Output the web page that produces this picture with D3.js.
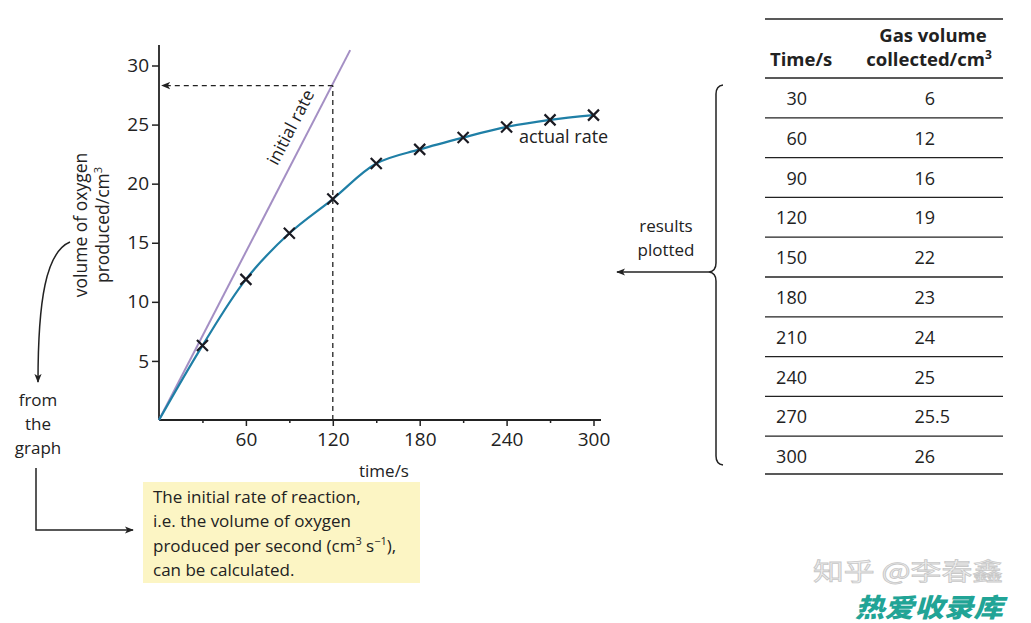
<!DOCTYPE html>
<html><head><meta charset="utf-8">
<script src="https://cdn.jsdelivr.net/npm/d3@7"></script>
<style>html,body{margin:0;padding:0;background:#fff;} svg{display:block;font-family:"Open Sans","Noto Sans",sans-serif;}</style>
</head><body>
<svg id="c" width="1031" height="623"></svg>
<script>
// ---- data ----
const times = [30, 60, 90, 120, 150, 180, 210, 240, 270, 300];
const plotted = [6.3, 11.9, 15.8, 18.7, 21.7, 22.9, 23.9, 24.8, 25.4, 25.8];
const tableTimes = ["30","60","90","120","150","180","210","240","270","300"];
const tableVolumes = ["6","12","16","19","22","23","24","25","25.5","26"];
const xMajorTicks = [60, 120, 180, 240, 300];
const xMinorTicks = [30, 90, 150, 210, 270];
const yTicks = [5, 10, 15, 20, 25, 30];
const initialRateEnd = [132, 31.3];
const readTime = 120, readVolume = 28.3;

const svg = d3.select("#c");
const ink = "#222";
const x = d3.scaleLinear().domain([0, 300]).range([159, 593.5]);
const y = d3.scaleLinear().domain([0, 30]).range([420, 65.5]);

// defs: arrowhead
const defs = svg.append("defs");
defs.append("marker").attr("id","ah").attr("viewBox","0 0 10 10").attr("refX",9).attr("refY",5)
  .attr("markerWidth",9).attr("markerHeight",9).attr("markerUnits","userSpaceOnUse").attr("orient","auto-start-reverse")
  .append("path").attr("d","M0,1 L10,5 L0,9 L2.5,5 Z").attr("fill", ink);

// axes
const gx = svg.append("g").attr("transform","translate(0,420)");
gx.append("line").attr("x1",159).attr("x2",601).attr("stroke",ink).attr("stroke-width",1.8);
gx.call(d3.axisBottom(x).tickValues(xMajorTicks).tickSize(6).tickPadding(7).tickSizeOuter(0));
const gxm = svg.append("g").attr("transform","translate(0,420)")
  .call(d3.axisBottom(x).tickValues(xMinorTicks).tickSize(3).tickFormat("").tickSizeOuter(0));
gxm.select(".domain").remove();
gx.select(".domain").remove();
const gy = svg.append("g").attr("transform","translate(159,0)");
gy.append("line").attr("y1",420).attr("y2",45).attr("stroke",ink).attr("stroke-width",1.8);
gy.call(d3.axisLeft(y).tickValues(yTicks).tickSize(7).tickPadding(3).tickSizeOuter(0));
gy.select(".domain").remove();
svg.selectAll(".tick line").attr("stroke",ink).attr("stroke-width",1.5);
svg.selectAll(".tick text").attr("font-size",19).attr("fill",ink).attr("font-family",'"Open Sans",sans-serif');

// axis titles
svg.append("text").attr("x",384).attr("y",477).attr("text-anchor","middle").attr("font-size",17).attr("fill",ink).text("time/s");
const yl = svg.append("text").attr("transform","translate(87,225) rotate(-90)").attr("text-anchor","middle").attr("font-size",17.5).attr("fill",ink);
yl.append("tspan").attr("x",0).attr("dy",0).text("volume of oxygen");
yl.append("tspan").attr("x",0).attr("dy",22).text("produced/cm");
yl.append("tspan").attr("font-size",11).attr("dy",-7).text("3");

// initial rate line
svg.append("line").attr("x1",x(0)).attr("y1",y(0)).attr("x2",x(initialRateEnd[0])).attr("y2",y(initialRateEnd[1]))
  .attr("stroke","#a48fc4").attr("stroke-width",2);
const ang = Math.atan2(y(initialRateEnd[1])-y(0), x(initialRateEnd[0])-x(0))*180/Math.PI;
svg.append("text").attr("transform",`translate(296,130) rotate(${ang})`).attr("text-anchor","middle")
  .attr("font-size",17.5).attr("fill",ink).text("initial rate");

// dashed reading lines
svg.append("line").attr("x1",x(readTime)).attr("x2",x(readTime)).attr("y1",y(0)).attr("y2",y(readVolume))
  .attr("stroke",ink).attr("stroke-width",1.3).attr("stroke-dasharray","5,4");
svg.append("line").attr("x1",x(readTime)).attr("x2",x(0)+3).attr("y1",y(readVolume)).attr("y2",y(readVolume))
  .attr("stroke",ink).attr("stroke-width",1.3).attr("stroke-dasharray","5,4").attr("marker-end","url(#ah)");

// actual curve
const pts = [[0,0]].concat(times.map((t,i)=>[t, plotted[i]]));
svg.append("path").attr("d", d3.line().x(d=>x(d[0])).y(d=>y(d[1])).curve(d3.curveCatmullRom.alpha(0.5))(pts))
  .attr("fill","none").attr("stroke","#1f7fa6").attr("stroke-width",2.2);
// crosses
svg.append("g").selectAll("path").data(times.map((t,i)=>[t,plotted[i]])).join("path")
  .attr("d", d=>{const cx=x(d[0]), cy=y(d[1]), s=5.5; return `M${cx-s},${cy-s}L${cx+s},${cy+s}M${cx-s},${cy+s}L${cx+s},${cy-s}`;})
  .attr("stroke","#1a1a22").attr("stroke-width",2.2);
svg.append("text").attr("x",519).attr("y",143).attr("font-size",18).attr("fill",ink).text("actual rate");

// left annotation
svg.append("path").attr("d","M70,242 C46,252 38,300 38,382").attr("fill","none").attr("stroke",ink).attr("stroke-width",1.5).attr("marker-end","url(#ah)");
["from","the","graph"].forEach((s,i)=>svg.append("text").attr("x",38).attr("y",406+i*24).attr("text-anchor","middle").attr("font-size",17).attr("fill",ink).text(s));
svg.append("path").attr("d","M36,468 L36,530 L133,530").attr("fill","none").attr("stroke",ink).attr("stroke-width",1.5).attr("marker-end","url(#ah)");

// yellow box
svg.append("rect").attr("x",143).attr("y",482).attr("width",277).attr("height",101).attr("fill","#fcf5c4");
const boxLines = ["The initial rate of reaction,","i.e. the volume of oxygen",null,"can be calculated."];
boxLines.forEach((s,i)=>{
  const t = svg.append("text").attr("x",153).attr("y",503+i*24.3).attr("font-size",17).attr("fill",ink);
  if (s) t.text(s);
  else {
    t.append("tspan").text("produced per second (cm");
    t.append("tspan").attr("font-size",11).attr("dy",-7).text("3");
    t.append("tspan").attr("dy",7).text(" s");
    t.append("tspan").attr("font-size",11).attr("dy",-7).text("\u22121");
    t.append("tspan").attr("dy",7).text("),");
  }
});

// brace + arrow
svg.append("path").attr("d","M723,85 Q716,86 716,94 L716,263 Q716,271 709,272 Q716,273 716,281 L716,456 Q716,464 723,465")
  .attr("fill","none").attr("stroke",ink).attr("stroke-width",1.5);
svg.append("line").attr("x1",709).attr("x2",617).attr("y1",272).attr("y2",272).attr("stroke",ink).attr("stroke-width",1.5).attr("marker-end","url(#ah)");
["results","plotted"].forEach((s,i)=>svg.append("text").attr("x",666).attr("y",232+i*24).attr("text-anchor","middle").attr("font-size",17).attr("fill",ink).text(s));

// table
const tl = 765, tr = 1003;
svg.append("line").attr("x1",tl).attr("x2",tr).attr("y1",19).attr("y2",19).attr("stroke",ink).attr("stroke-width",1.3);
svg.append("text").attr("x",770).attr("y",66).attr("font-size",18.5).attr("font-weight","bold").attr("fill",ink).text("Time/s");
svg.append("text").attr("x",933).attr("y",42).attr("text-anchor","middle").attr("font-size",18.5).attr("font-weight","bold").attr("fill",ink).text("Gas volume");
const h2 = svg.append("text").attr("x",929).attr("y",66).attr("text-anchor","middle").attr("font-size",18.5).attr("font-weight","bold").attr("fill",ink);
h2.append("tspan").text("collected/cm");
h2.append("tspan").attr("font-size",12).attr("dy",-7).text("3");
const rowH = 39.8;
tableTimes.forEach((tt,i)=>{
  const top = 78 + i*rowH;
  svg.append("line").attr("x1",tl).attr("x2",tr).attr("y1",top).attr("y2",top).attr("stroke",ink).attr("stroke-width",1.3);
  svg.append("text").attr("x",807).attr("y",top+27).attr("text-anchor","end").attr("font-size",18).attr("fill",ink).text(tt);
  const parts = tableVolumes[i].split(".");
  svg.append("text").attr("x",935).attr("y",top+27).attr("text-anchor","end").attr("font-size",18).attr("fill",ink).text(parts[0]);
  if (parts[1]) svg.append("text").attr("x",935).attr("y",top+27).attr("font-size",18).attr("fill",ink).text("."+parts[1]);
});
svg.append("line").attr("x1",tl).attr("x2",tr).attr("y1",78+10*rowH-2).attr("y2",78+10*rowH-2).attr("stroke",ink).attr("stroke-width",1.3);

// watermark
svg.append("text").attr("x",813).attr("y",580).attr("font-size",24).attr("font-family",'"Noto Sans CJK SC",sans-serif')
  .attr("textLength",190).attr("lengthAdjust","spacingAndGlyphs")
  .attr("fill","#f0f0f0").attr("stroke","#c8c8c8").attr("stroke-width",0.8).text("知乎 @李春鑫");
svg.append("text").attr("x",855).attr("y",617).attr("font-size",26).attr("font-weight","900").attr("font-style","italic")
  .attr("textLength",148).attr("lengthAdjust","spacingAndGlyphs")
  .attr("font-family",'"Noto Sans CJK SC",sans-serif').attr("fill","#21a496").text("热爱收录库");
</script>
</body></html>
